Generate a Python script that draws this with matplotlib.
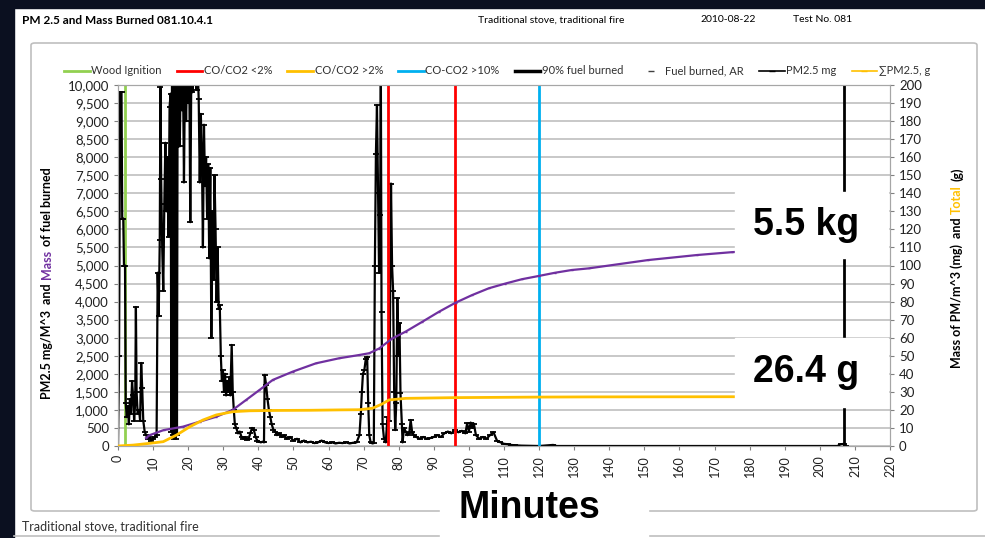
import numpy as np
import matplotlib.pyplot as plt
from matplotlib.lines import Line2D
from matplotlib.patches import Rectangle, FancyBboxPatch

plt.rcParams['font.family'] = ['Lato', 'DejaVu Sans']

# ---- data ----
# PM2.5 trace (left axis, mg/m^3), minutes
pm_t = [0.0, 0.3, 0.6, 1.0, 1.2, 1.5, 1.7, 2.0, 2.2, 2.5, 2.8, 3.1, 3.4, 3.7, 4.0, 4.3, 4.6, 4.9,
        5.1, 5.3, 5.6, 6.0, 6.3, 6.6, 6.9, 7.2, 7.6, 8.0, 8.5, 9.0, 9.5, 10.0, 10.5, 11.0, 11.3,
        11.6, 11.9, 12.1, 12.3, 12.6, 12.9, 13.2, 13.5, 13.8, 14.1, 14.4, 14.7, 15.0, 15.2, 15.4,
        15.6, 15.8, 16.0, 16.2, 16.4, 16.6, 16.8, 17.0, 17.2, 17.4, 17.6, 17.9, 18.2, 18.5, 18.8,
        19.1, 19.4, 19.7, 20.0, 20.3, 20.6, 20.9, 21.2, 21.5, 21.8, 22.1, 22.4, 22.7, 23.0, 23.3,
        23.6, 23.9, 24.2, 24.5, 24.8, 25.1, 25.4, 25.7, 26.0, 26.3, 26.6, 26.9, 27.2, 27.5, 27.8,
        28.1, 28.4, 28.7, 29.0, 29.3, 29.6, 29.9, 30.2, 30.5, 30.8, 31.1, 31.4, 31.7, 32.0, 32.4,
        32.7, 33.0, 33.3, 33.7, 34.2, 34.7, 35.2, 35.7, 36.2, 36.7, 37.2, 37.7, 38.2, 38.7, 39.2,
        39.7, 40.2, 40.7, 41.2, 41.6, 41.8, 42.2, 42.6, 43.0, 43.4, 43.8, 44.3, 44.8, 45.3, 46.0,
        46.7, 47.4, 48.1, 49.0, 50.0, 51.0, 52.0, 53.0, 54.0, 55.0, 56.0, 57.0, 58.0, 59.0, 60.0,
        61.0, 62.0, 63.0, 64.0, 65.0, 66.0, 67.0, 68.0, 68.8, 69.2, 69.5, 69.8, 70.2, 70.6, 71.0,
        71.3, 71.6, 72.0, 72.5, 72.9, 73.2, 73.5, 73.8, 74.1, 74.4, 74.7, 74.9, 75.1, 75.4, 75.8,
        76.3, 76.8, 77.3, 77.8, 78.1, 78.4, 78.7, 79.0, 79.3, 79.6, 79.9, 80.2, 80.5, 80.9, 81.1,
        81.5, 82.0, 82.5, 83.0, 83.4, 83.8, 84.3, 85.0, 86.0, 87.0, 88.0, 89.0, 90.0, 91.0, 92.0,
        93.0, 94.0, 95.0, 96.0, 97.0, 98.0, 99.0, 99.5, 100.0, 100.5, 101.0, 101.4, 102.0, 103.0,
        104.0, 105.0, 106.0, 107.0, 108.0, 109.0, 110.0, 111.0, 112.0, 113.0, 115.0, 120.0, 124.0,
        125.0, 140.0, 160.0, 180.0, 200.0, 205.0, 206.0, 207.0, 207.5]
pm_mg = [0, 2500, 9800, 9800, 6300, 6300, 5000, 5000, 1200, 800, 1100, 600, 1300, 900, 1800, 1400, 700, 1200,
         3850, 1500, 900, 1000, 700, 2300, 1600, 700, 400, 300, 200, 250, 150, 200, 250, 300, 4800,
         3600, 5700, 9950, 7400, 5500, 4300, 6700, 8400, 6500, 8000, 5800, 9400, 9760, 400, 10500,
         300, 10500, 200, 10500, 200, 10500, 300, 10500, 8300, 10500, 8300, 10500, 9300, 10500, 7300,
         10500, 9000, 10500, 9500, 10500, 6200, 10500, 9800, 10500, 10200, 10500, 9860, 10500, 9600, 7300,
         9200, 8100, 5500, 8900, 7200, 8000, 6300, 7800, 5200, 7700, 3000, 6500, 4600, 7500, 6000,
         4000, 5500, 3800, 3900, 2500, 1800, 2100, 1500, 2000, 1400, 1800, 1500, 1900, 1400, 2800,
         1500, 1000, 600, 500, 350, 400, 250, 200, 250, 180, 200, 350, 500, 450, 250,
         150, 120, 100, 120, 100, 1970, 1700, 1300, 1000, 800, 600, 450, 400, 300, 350,
         250, 300, 200, 250, 150, 200, 100, 150, 100, 120, 80, 100, 150, 100, 80,
         100, 70, 90, 80, 100, 70, 90, 100, 300, 900, 1500, 2000, 2100, 2400, 2470,
         1200, 300, 100, 70, 80, 5000, 8100, 9440, 7000, 4800, 6400, 10500, 3700, 600, 200,
         100, 800, 700, 7270, 5000, 4300, 1500, 440, 1200, 4090, 2500, 3400, 1460, 600, 100,
         500, 400, 300, 350, 720, 400, 300, 250, 200, 250, 200, 220, 250, 300, 250,
         350, 400, 350, 450, 380, 420, 350, 630, 400, 650, 500, 620, 300, 200,
         250, 200, 300, 380, 150, 100, 60, 50, 30, 20, 10, 0, 30,
         0, 0, 0, 0, 0, 0, 50, 60, 0]

# fuel burned (left axis, g)
fuel_t = [8, 9, 13, 18.5, 23.3, 28, 32.7, 36.5, 40.3, 44.1, 49.8, 56.4, 63, 68.7, 71.6, 74.4, 78.2,
          82, 86.7, 91.5, 96.2, 100.9, 105.7, 110.4, 115.1, 119.9, 124.6, 129.3, 134.1, 151, 165,
          175, 190, 207]
fuel_g = [220, 300, 440, 535, 675, 810, 1000, 1275, 1550, 1830, 2060, 2290, 2430, 2520, 2570, 2700,
          2980, 3170, 3440, 3720, 3970, 4180, 4370, 4500, 4620, 4710, 4800, 4875, 4920, 5150, 5290,
          5370, 5440, 5500]

# cumulative PM2.5 (right axis, g)
sum_t = [0, 4.3, 9.1, 12.9, 16.7, 20.5, 24.2, 28, 32.7, 37.5, 45, 55, 63, 68.7, 72.5, 75.3, 77.2,
         82, 96.2, 119.9, 134, 175, 207]
sum_g = [0, 0.5, 1.5, 2.4, 6.1, 10.7, 14.4, 17.2, 19.0, 19.5, 19.7, 19.8, 20.0, 20.1, 20.9, 23.3,
         25.5, 26.4, 26.8, 27.1, 27.2, 27.3, 27.3]

# event lines (minutes)
ignition = [2]
co_low = [77, 96]
co_10 = [120]
fuel90 = [207]

legend_labels = ['Wood Ignition', 'CO/CO2 <2%', 'CO/CO2 >2%', 'CO-CO2 >10%', '90% fuel burned',
                 'Fuel burned, AR', 'PM2.5 mg', '\u2211PM2.5, g']

GREEN, RED, YEL, BLUE, PURP = '#92D050', '#FF0000', '#FFC000', '#00B0F0', '#7030A0'

W, H = 985, 538
fig = plt.figure(figsize=(W / 100, H / 100), dpi=100, facecolor='white')


def fx(px):
    return px / W


def fy(py):
    return 1 - py / H


# dark screenshot border
fig.patches.append(Rectangle((0, fy(8)), 1, 1, transform=fig.transFigure, color='#0b1020', zorder=-5))
fig.patches.append(Rectangle((0, 0), fx(14), 1, transform=fig.transFigure, color='#0b1020', zorder=-5))
# chart frame
fig.patches.append(FancyBboxPatch((fx(31), fy(511)), fx(977) - fx(31), fy(43) - fy(511),
                                  boxstyle='round,pad=0,rounding_size=0.004', transform=fig.transFigure,
                                  fc='none', ec='#BFBFBF', lw=1.2, zorder=-4))
fig.add_artist(Line2D([fx(14), 1], [fy(536), fy(536)], color='#BFBFBF', lw=1.2, zorder=-4))

ax = fig.add_axes([fx(118), fy(446), fx(890) - fx(118), fy(85) - fy(446)])
ax2 = ax.twinx()
ax.patch.set_alpha(0)

ax.set_xlim(0, 220)
ax.set_ylim(0, 10000)
ax2.set_ylim(0, 200)
ax.set_xticks(np.arange(0, 221, 10))
ax.set_xticklabels([str(v) for v in range(0, 221, 10)], rotation=90, fontsize=9, color='#404040')
ax.set_yticks(np.arange(0, 10001, 500))
ax.set_yticklabels(['{:,}'.format(v) for v in range(0, 10001, 500)], fontsize=9.5)
ax2.set_yticks(np.arange(0, 201, 10))
ax2.set_yticklabels([str(v) for v in range(0, 201, 10)], fontsize=9.5)
ax.yaxis.grid(True, color='#C8C8C8', lw=1.4)
ax.set_axisbelow(True)
for a in (ax, ax2):
    for s in a.spines.values():
        s.set_color('#A6A6A6')
    a.tick_params(colors='#808080', length=3, labelcolor='#202020')

ax.plot(pm_t, pm_mg, color='black', lw=1.6, marker='_', ms=4.5, mew=1.3, zorder=3)
for v in ignition:
    ax.axvline(v, color=GREEN, lw=2, zorder=2)
for v in co_low:
    ax.axvline(v, color=RED, lw=2, zorder=4)
for v in co_10:
    ax.axvline(v, color=BLUE, lw=2, zorder=4)
for v in fuel90:
    ax.axvline(v, color='black', lw=2, zorder=4)
ax.plot(fuel_t, fuel_g, color=PURP, lw=1.6, marker='_', ms=2, zorder=5)
ax2.plot(sum_t, sum_g, color=YEL, lw=2, zorder=5)

handles = [Line2D([], [], color=GREEN, lw=2), Line2D([], [], color=RED, lw=2),
           Line2D([], [], color=YEL, lw=2), Line2D([], [], color=BLUE, lw=2),
           Line2D([], [], color='black', lw=2.5),
           Line2D([], [], color='#404040', ls='none', marker='_', ms=5),
           Line2D([], [], color='black', lw=1.2, marker='_', ms=5),
           Line2D([], [], color=YEL, lw=1.2, marker='_', ms=5)]
fig.legend(handles, legend_labels, loc='center', bbox_to_anchor=(fx(497), fy(71)), ncol=8,
           frameon=False, fontsize=8, handlelength=2.3, handletextpad=0.15, columnspacing=1.35,
           labelcolor='#303030')

# header
fig.text(fx(22), fy(20), 'PM 2.5 and Mass Burned 081.10.4.1', fontsize=8.5, fontweight='bold', va='center')
fig.text(fx(478), fy(20), 'Traditional stove, traditional fire', fontsize=7.5, va='center')
fig.text(fx(700), fy(20), '2010-08-22', fontsize=7.5, va='center')
fig.text(fx(793), fy(20), 'Test No. 081', fontsize=7.5, va='center')
fig.text(fx(22), fy(526), 'Traditional stove, traditional fire', fontsize=9, va='center', color='#303030')

# multi-coloured rotated axis titles
fig.canvas.draw()
rend = fig.canvas.get_renderer()


def vlabel(xpx, ycenter_px, parts):
    texts = []
    for s, c in parts:
        texts.append(fig.text(fx(xpx), 0, s, color=c, rotation=90, ha='center', va='bottom',
                              fontsize=9, fontweight='bold'))
    gap = 4
    hs = [t.get_window_extent(renderer=rend).height for t in texts]
    total = sum(hs) + gap * (len(hs) - 1)
    cur = (H - ycenter_px) - total / 2
    for t, h in zip(texts, hs):
        t.set_y(cur / H)
        cur += h + gap


vlabel(47, 283, [('PM2.5 mg/M^3  and', 'black'), ('Mass', PURP), ('of fuel burned', 'black')])
vlabel(957, 268, [('Mass of PM/m^3 (mg)  and', 'black'), ('Total', YEL), ('(g)', 'black')])

# white call-out boxes
for y0, y1, s in [(192, 258, '5.5 kg'), (338, 407, '26.4 g')]:
    fig.patches.append(Rectangle((fx(735), fy(y1)), fx(888) - fx(735), fy(y0) - fy(y1),
                                 transform=fig.transFigure, color='white', zorder=10))
    fig.text(fx(806), fy((y0 + y1) / 2), s, fontsize=27, fontweight='bold', ha='center', va='center',
             family=['Liberation Sans', 'DejaVu Sans'], zorder=11)

fig.patches.append(Rectangle((fx(440), 0), fx(648) - fx(440), fy(484), transform=fig.transFigure,
                             color='white', zorder=10))
fig.text(fx(529), fy(508), 'Minutes', fontsize=27, fontweight='bold', ha='center', va='center',
         family=['Liberation Sans', 'DejaVu Sans'], zorder=11)

fig.savefig('out.png', dpi=100)
